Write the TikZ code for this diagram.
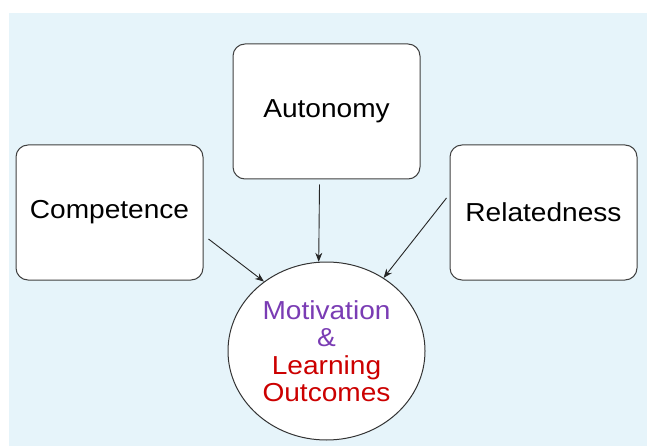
\documentclass[tikz,border=0pt]{standalone}
\usepackage{fontspec}
\setmainfont{Liberation Sans}[FakeStretch=1.08]
\usetikzlibrary{shapes.geometric}
\usetikzlibrary{arrows.meta}
\definecolor{bgblue}{HTML}{E6F4FA}
\definecolor{motpurple}{HTML}{7A3CB4}
\definecolor{outred}{HTML}{CC0000}

\begin{document}
\begin{tikzpicture}[x=1pt, y=-1pt,
  need/.style={draw=black!75, line width=1pt, fill=white, rounded corners=12pt,
    minimum width=187pt, minimum height=135pt, inner sep=0pt,
    font=\fontsize{26}{30}\selectfont},
  goalnode/.style={ellipse, draw=black!80, line width=1pt, fill=white,
    minimum width=197pt, minimum height=178pt, inner sep=0pt, align=center,
    font=\fontsize{26}{27.5}\selectfont},
  arr/.style={draw=black!85, line width=0.9pt, -{Stealth[length=9pt, width=7pt]}}]

\useasboundingbox (0, 0) rectangle (647, 446);
\fill[bgblue] (9, 13) rectangle (647, 446);

\node[need] (comp) at (109.5, 212.5) {Competence};
\node[need] (auton) at (326.5, 111.5) {Autonomy};
\node[need] (rel) at (543.5, 212.5) {Relatedness};

\node[goalnode] (goal) at (326.5, 351) {\textcolor{motpurple}{Motivation}\\
  \textcolor{motpurple}{\&}\\ \textcolor{outred}{Learning}\\ \textcolor{outred}{Outcomes}};

\draw[arr] ([xshift=5pt, yshift=-26.5pt]comp.east) -- (goal.132);
\draw[arr] ([xshift=-7pt, yshift=-5pt]auton.south) -- (goal.95);
\draw[arr] ([xshift=-3pt, yshift=14.5pt]rel.west) -- (goal.52);

\end{tikzpicture}
\end{document}
